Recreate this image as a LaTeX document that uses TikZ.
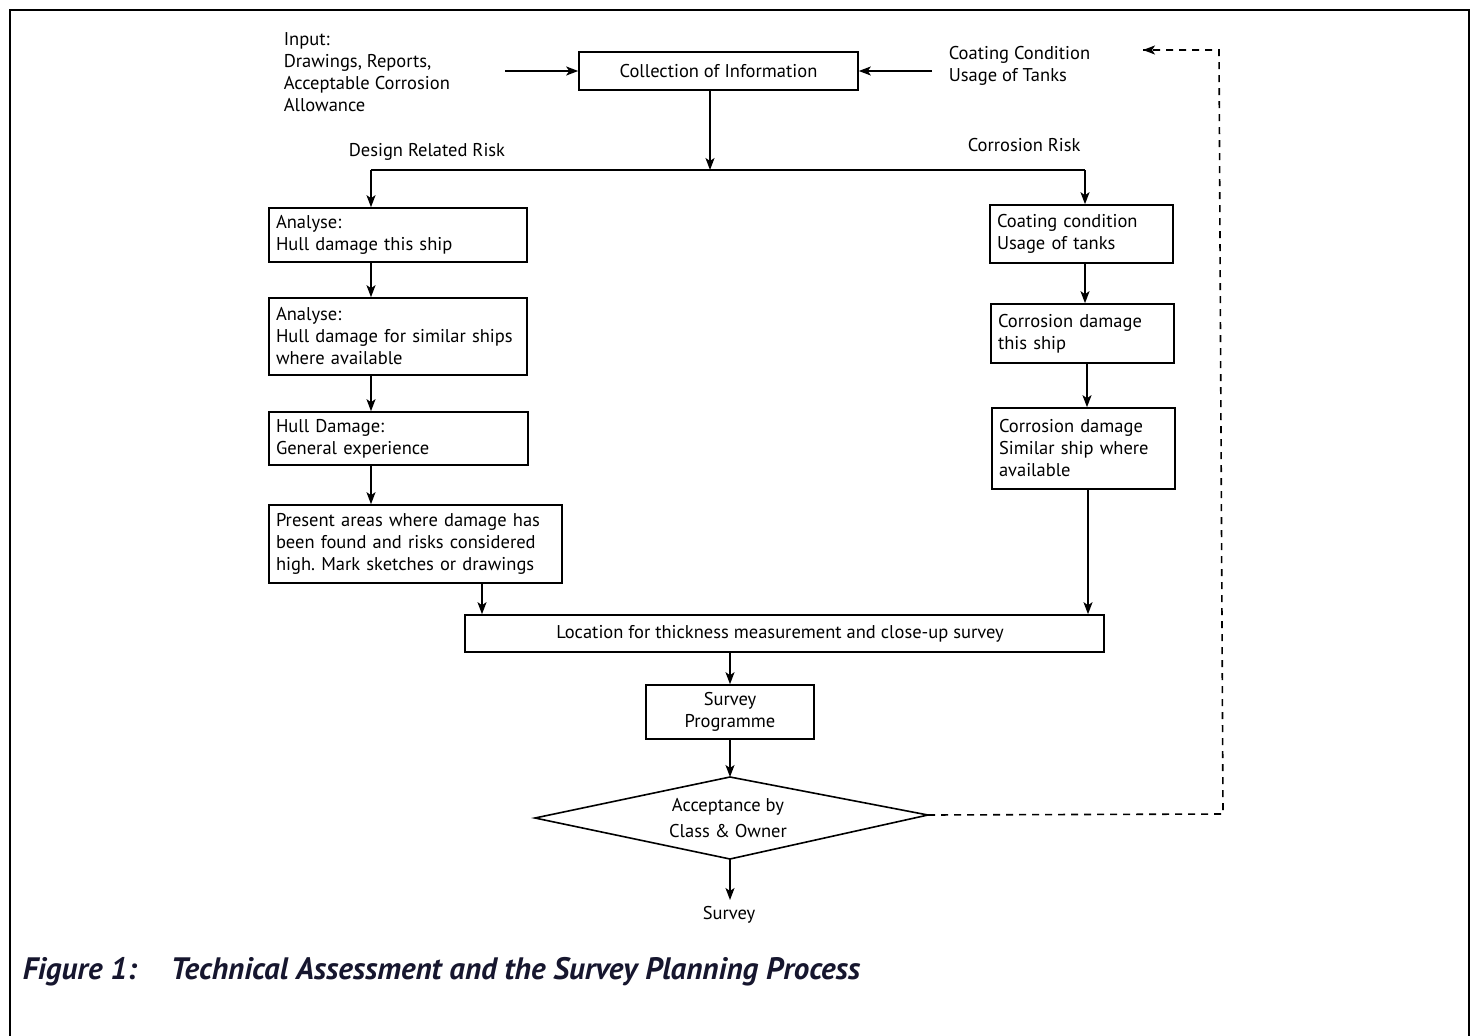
\documentclass[tikz,border=0pt]{standalone}
\usepackage{fontspec}
\setmainfont{PT Sans}
\newfontfamily\capfont{PT Sans}
\usetikzlibrary{arrows.meta,calc}
\definecolor{capcol}{HTML}{16162E}
\frenchspacing
\begin{document}
\begin{tikzpicture}[x=1pt,y=-1pt,
  line width=1.6pt,
  txt/.style={font=\fontsize{18.5}{22}\selectfont, inner sep=0pt, align=left},
  box/.style={draw, rectangle, inner xsep=7pt, inner ysep=0pt, align=left,
    font=\fontsize{18.5}{22}\selectfont},
  arr/.style={-{Stealth[length=12pt,width=9pt,inset=3pt]}},
  dsh/.style={dash pattern=on 7pt off 6pt}]
\useasboundingbox (0,0) rectangle (1473,1036);
% frame
\draw[line width=2pt] (10,1036) -- (10,10) -- (1469,10) -- (1469,1036);

% top row
\node[box, minimum width=279pt, minimum height=38pt, align=center] (coll) at (718.5,71) {Collection of Information};
\node[txt, anchor=west] (inp) at (283,72.5) {Input:\\Drawings, Reports,\\Acceptable Corrosion\\Allowance};
\node[txt, anchor=west] (coat) at (948,66) {Coating Condition\\Usage of Tanks};
\coordinate (inpEnd) at (505,71);
\coordinate (coatEnd) at (932,71);
\draw[arr] (inpEnd) -- (coll.west);
\draw[arr] (coatEnd) -- (coll.east);

% split
\coordinate (splitC) at (710,170);
\coordinate (splitL) at (371,170);
\coordinate (splitR) at (1085,170);
\draw[arr] (coll.south -| splitC) -- (splitC);
\draw (splitL) -- (splitR);
\node[txt, anchor=west] (drr) at (348,152) {Design Related Risk};
\node[txt, anchor=west] (cr) at (967,145) {Corrosion Risk};

% left column
\node[box, minimum height=54pt, text width=244pt] (a1) at (398,235) {Analyse:\\Hull damage this ship};
\node[box, minimum height=77pt, text width=244pt] (a2) at (398,336.5) {Analyse:\\Hull damage for similar ships\\where available};
\node[box, minimum height=53pt, text width=245pt] (a3) at (398.5,438.5) {Hull Damage:\\General experience};
\node[box, minimum height=78pt, text width=279pt] (a4) at (415.5,544) {Present areas where damage has\\been found and risks considered\\high. Mark sketches or drawings};
\draw[arr] (splitL) -- (a1.north -| splitL);
\draw[arr] (a1.south -| splitL) -- (a2.north -| splitL);
\draw[arr] (a2.south -| splitL) -- (a3.north -| splitL);
\draw[arr] (a3.south -| splitL) -- (a4.north -| splitL);

% right column
\node[box, minimum height=58pt, text width=169pt] (b1) at (1081.5,234) {Coating condition\\Usage of tanks};
\node[box, minimum height=59pt, text width=169pt] (b2) at (1082.5,333.5) {Corrosion damage\\this ship};
\node[box, minimum height=81pt, text width=169pt] (b3) at (1083.5,448.5) {Corrosion damage\\Similar ship where\\available};
\coordinate (rc1) at (1085,0);
\coordinate (rc2) at (1087,0);
\draw[arr] (splitR) -- (b1.north -| splitR);
\draw[arr] (b1.south -| rc1) -- (b2.north -| rc1);
\draw[arr] (b2.south -| rc2) -- (b3.north -| rc2);

% location
\node[box, minimum width=639pt, minimum height=37pt, align=center, inner xsep=0pt] (loc) at (784.5,633.5) {\hspace*{-9pt}Location for thickness measurement and close-up survey};
\coordinate (lx) at (482,0);
\coordinate (rx) at (1088,0);
\draw[arr] (a4.south -| lx) -- (loc.north -| lx);
\draw[arr] (b3.south -| rx) -- (loc.north -| rx);

% survey programme
\coordinate (mx) at (730,0);
\node[box, minimum width=168pt, minimum height=54pt, align=center] (sp) at (730,712) {Survey\\Programme};
\draw[arr] (loc.south -| mx) -- (sp.north -| mx);

% diamond
\coordinate (dT) at (730,777);
\coordinate (dR) at (928,815);
\coordinate (dB) at (730,859);
\coordinate (dL) at (535,818);
\draw (dT) -- (dR) -- (dB) -- (dL) -- cycle;
\node[txt, align=center, font=\fontsize{18.5}{26}\selectfont] (acc) at (728,818) {Acceptance by\\Class \& Owner};
\draw[arr] (sp.south -| mx) -- (dT);
\node[txt] (surv) at (729,915) {Survey};
\coordinate (survTop) at (730,900);
\draw[arr] (dB) -- (survTop);

% dashed feedback
\coordinate (fb1) at (1223,814);
\coordinate (fb2) at (1219,50);
\coordinate (fbEnd) at (1143,50);
\draw[dsh] (dR) -- (fb1) -- (fb2) -- (fbEnd);
\draw[arr] ($(fbEnd)+(8,0)$) -- (fbEnd);

% caption
\node[anchor=west, inner sep=0pt, text=capcol, font=\capfont\bfseries\itshape\fontsize{31}{34}\selectfont] (fig) at (22,972) {Figure 1:};
\node[anchor=west, inner sep=0pt, text=capcol, font=\capfont\bfseries\itshape\fontsize{31}{34}\selectfont] (cap) at (170,972) {Technical Assessment and the Survey Planning Process};
\end{tikzpicture}
\end{document}
